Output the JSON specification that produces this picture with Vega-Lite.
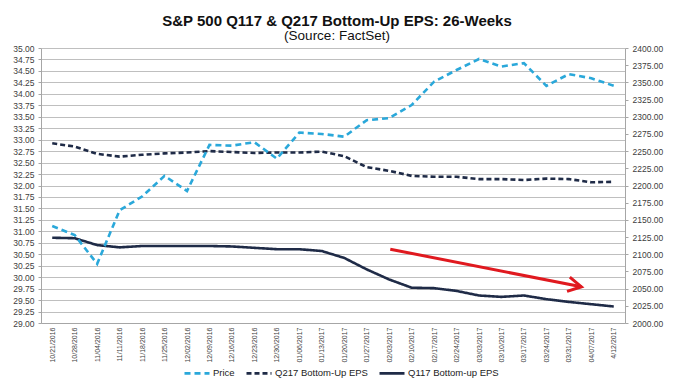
{
  "$schema": "https://vega.github.io/schema/vega-lite/v6.json",
  "autosize": {"type": "none"},
  "width": 584,
  "height": 275,
  "padding": {"left": 41, "top": 48, "right": 50, "bottom": 64},
  "background": "white",
  "config": {
    "view": {"stroke": null},
    "font": "Liberation Sans",
    "axis": {"labelFont": "Liberation Sans", "labelColor": "#404040", "domainColor": "#a6a6a6", "tickColor": "#a6a6a6"}
  },
  "title": {
    "text": "S&P 500 Q117 & Q217 Bottom-Up EPS: 26-Weeks",
    "subtitle": "(Source: FactSet)",
    "anchor": "middle",
    "font": "Liberation Sans",
    "fontSize": 15,
    "fontWeight": "bold",
    "color": "#111",
    "subtitleFont": "Liberation Sans",
    "subtitleFontSize": 13.5,
    "subtitleColor": "#111",
    "subtitlePadding": 0,
    "offset": 2,
    "dx": 4
  },
  "datasets": {
    "eps": [
      {"date": "10/21/2016", "series": "Price", "value": 2141},
      {"date": "10/28/2016", "series": "Price", "value": 2128},
      {"date": "11/04/2016", "series": "Price", "value": 2086},
      {"date": "11/11/2016", "series": "Price", "value": 2164},
      {"date": "11/18/2016", "series": "Price", "value": 2184},
      {"date": "11/25/2016", "series": "Price", "value": 2214},
      {"date": "12/02/2016", "series": "Price", "value": 2192},
      {"date": "12/09/2016", "series": "Price", "value": 2259},
      {"date": "12/16/2016", "series": "Price", "value": 2258},
      {"date": "12/23/2016", "series": "Price", "value": 2263},
      {"date": "12/30/2016", "series": "Price", "value": 2239},
      {"date": "01/06/2017", "series": "Price", "value": 2277},
      {"date": "01/13/2017", "series": "Price", "value": 2275},
      {"date": "01/20/2017", "series": "Price", "value": 2271},
      {"date": "01/27/2017", "series": "Price", "value": 2295},
      {"date": "02/03/2017", "series": "Price", "value": 2298},
      {"date": "02/10/2017", "series": "Price", "value": 2317},
      {"date": "02/17/2017", "series": "Price", "value": 2351},
      {"date": "02/24/2017", "series": "Price", "value": 2368},
      {"date": "03/03/2017", "series": "Price", "value": 2384},
      {"date": "03/10/2017", "series": "Price", "value": 2373},
      {"date": "03/17/2017", "series": "Price", "value": 2378},
      {"date": "03/24/2017", "series": "Price", "value": 2345},
      {"date": "03/31/2017", "series": "Price", "value": 2362},
      {"date": "04/07/2017", "series": "Price", "value": 2356},
      {"date": "4/12/2017", "series": "Price", "value": 2345},
      {"date": "10/21/2016", "series": "Q217 Bottom-Up EPS", "value": 32.92},
      {"date": "10/28/2016", "series": "Q217 Bottom-Up EPS", "value": 32.85},
      {"date": "11/04/2016", "series": "Q217 Bottom-Up EPS", "value": 32.69},
      {"date": "11/11/2016", "series": "Q217 Bottom-Up EPS", "value": 32.63},
      {"date": "11/18/2016", "series": "Q217 Bottom-Up EPS", "value": 32.67},
      {"date": "11/25/2016", "series": "Q217 Bottom-Up EPS", "value": 32.70},
      {"date": "12/02/2016", "series": "Q217 Bottom-Up EPS", "value": 32.72},
      {"date": "12/09/2016", "series": "Q217 Bottom-Up EPS", "value": 32.75},
      {"date": "12/16/2016", "series": "Q217 Bottom-Up EPS", "value": 32.73},
      {"date": "12/23/2016", "series": "Q217 Bottom-Up EPS", "value": 32.71},
      {"date": "12/30/2016", "series": "Q217 Bottom-Up EPS", "value": 32.72},
      {"date": "01/06/2017", "series": "Q217 Bottom-Up EPS", "value": 32.72},
      {"date": "01/13/2017", "series": "Q217 Bottom-Up EPS", "value": 32.74},
      {"date": "01/20/2017", "series": "Q217 Bottom-Up EPS", "value": 32.64},
      {"date": "01/27/2017", "series": "Q217 Bottom-Up EPS", "value": 32.40},
      {"date": "02/03/2017", "series": "Q217 Bottom-Up EPS", "value": 32.32},
      {"date": "02/10/2017", "series": "Q217 Bottom-Up EPS", "value": 32.21},
      {"date": "02/17/2017", "series": "Q217 Bottom-Up EPS", "value": 32.19},
      {"date": "02/24/2017", "series": "Q217 Bottom-Up EPS", "value": 32.19},
      {"date": "03/03/2017", "series": "Q217 Bottom-Up EPS", "value": 32.14},
      {"date": "03/10/2017", "series": "Q217 Bottom-Up EPS", "value": 32.14},
      {"date": "03/17/2017", "series": "Q217 Bottom-Up EPS", "value": 32.12},
      {"date": "03/24/2017", "series": "Q217 Bottom-Up EPS", "value": 32.15},
      {"date": "03/31/2017", "series": "Q217 Bottom-Up EPS", "value": 32.14},
      {"date": "04/07/2017", "series": "Q217 Bottom-Up EPS", "value": 32.07},
      {"date": "4/12/2017", "series": "Q217 Bottom-Up EPS", "value": 32.08},
      {"date": "10/21/2016", "series": "Q117 Bottom-up EPS", "value": 30.86},
      {"date": "10/28/2016", "series": "Q117 Bottom-up EPS", "value": 30.85},
      {"date": "11/04/2016", "series": "Q117 Bottom-up EPS", "value": 30.70},
      {"date": "11/11/2016", "series": "Q117 Bottom-up EPS", "value": 30.65},
      {"date": "11/18/2016", "series": "Q117 Bottom-up EPS", "value": 30.68},
      {"date": "11/25/2016", "series": "Q117 Bottom-up EPS", "value": 30.68},
      {"date": "12/02/2016", "series": "Q117 Bottom-up EPS", "value": 30.68},
      {"date": "12/09/2016", "series": "Q117 Bottom-up EPS", "value": 30.68},
      {"date": "12/16/2016", "series": "Q117 Bottom-up EPS", "value": 30.67},
      {"date": "12/23/2016", "series": "Q117 Bottom-up EPS", "value": 30.64},
      {"date": "12/30/2016", "series": "Q117 Bottom-up EPS", "value": 30.61},
      {"date": "01/06/2017", "series": "Q117 Bottom-up EPS", "value": 30.61},
      {"date": "01/13/2017", "series": "Q117 Bottom-up EPS", "value": 30.57},
      {"date": "01/20/2017", "series": "Q117 Bottom-up EPS", "value": 30.42},
      {"date": "01/27/2017", "series": "Q117 Bottom-up EPS", "value": 30.17},
      {"date": "02/03/2017", "series": "Q117 Bottom-up EPS", "value": 29.95},
      {"date": "02/10/2017", "series": "Q117 Bottom-up EPS", "value": 29.77},
      {"date": "02/17/2017", "series": "Q117 Bottom-up EPS", "value": 29.76},
      {"date": "02/24/2017", "series": "Q117 Bottom-up EPS", "value": 29.70},
      {"date": "03/03/2017", "series": "Q117 Bottom-up EPS", "value": 29.60},
      {"date": "03/10/2017", "series": "Q117 Bottom-up EPS", "value": 29.57},
      {"date": "03/17/2017", "series": "Q117 Bottom-up EPS", "value": 29.60},
      {"date": "03/24/2017", "series": "Q117 Bottom-up EPS", "value": 29.52},
      {"date": "03/31/2017", "series": "Q117 Bottom-up EPS", "value": 29.46},
      {"date": "04/07/2017", "series": "Q117 Bottom-up EPS", "value": 29.41},
      {"date": "4/12/2017", "series": "Q117 Bottom-up EPS", "value": 29.36}
    ],
    "arrow": [
      {"pos": 15.05, "eps": 30.61, "pos2": 23.56, "eps2": 29.79}
    ]
  },
  "layer": [
    {
      "data": {"name": "eps"},
      "transform": [{"filter": "datum.series !== 'Price'"}],
      "mark": {"type": "line", "strokeCap": "butt"},
      "encoding": {
        "x": {
          "field": "date", "type": "ordinal", "sort": null,
          "scale": {"type": "point", "padding": 0.5},
          "axis": {"title": null, "labelAngle": 270, "labelFontSize": 7, "labelPadding": 4, "ticks": false, "domainColor": "#a6a6a6", "grid": false}
        },
        "y": {
          "field": "value", "type": "quantitative",
          "scale": {"domain": [29, 35], "nice": false, "zero": false},
          "axis": {
            "title": null, "orient": "left", "format": ".2f",
            "values": [29, 29.25, 29.5, 29.75, 30, 30.25, 30.5, 30.75, 31, 31.25, 31.5, 31.75, 32, 32.25, 32.5, 32.75, 33, 33.25, 33.5, 33.75, 34, 34.25, 34.5, 34.75, 35],
            "labelFontSize": 8.5, "tickSize": 3, "labelPadding": 4,
            "grid": true, "gridColor": "#bfbfbf", "gridWidth": 1
          }
        },
        "color": {
          "field": "series", "type": "nominal", "title": null,
          "scale": {"domain": ["Price", "Q217 Bottom-Up EPS", "Q117 Bottom-up EPS"], "range": ["#2aa8da", "#1f2b47", "#1f2b47"]}
        },
        "strokeDash": {
          "field": "series", "type": "nominal", "title": null,
          "scale": {"domain": ["Price", "Q217 Bottom-Up EPS", "Q117 Bottom-up EPS"], "range": [[6, 4], [5, 3], [1, 0]]}
        },
        "strokeWidth": {
          "field": "series", "type": "nominal", "title": null,
          "scale": {"domain": ["Price", "Q217 Bottom-Up EPS", "Q117 Bottom-up EPS"], "range": [2.6, 2.6, 1.6]}
        }
      }
    },
    {
      "data": {"name": "eps"},
      "transform": [{"filter": "datum.series === 'Price'"}],
      "mark": {"type": "line", "strokeCap": "butt"},
      "encoding": {
        "x": {
          "field": "date", "type": "ordinal", "sort": null,
          "scale": {"type": "point", "padding": 0.5},
          "axis": null
        },
        "y": {
          "field": "value", "type": "quantitative",
          "scale": {"domain": [2000, 2400], "nice": false, "zero": false},
          "axis": {
            "title": null, "orient": "right", "format": ".2f",
            "values": [2000, 2025, 2050, 2075, 2100, 2125, 2150, 2175, 2200, 2225, 2250, 2275, 2300, 2325, 2350, 2375, 2400],
            "labelFontSize": 8.5, "tickSize": 3, "labelPadding": 4, "grid": false
          }
        },
        "color": {
          "field": "series", "type": "nominal", "title": null,
          "scale": {"domain": ["Price", "Q217 Bottom-Up EPS", "Q117 Bottom-up EPS"], "range": ["#2aa8da", "#1f2b47", "#1f2b47"]},
          "legend": {
            "orient": "none", "legendX": 142, "legendY": 311, "direction": "horizontal",
            "symbolType": "stroke", "symbolSize": 625,
            "labelFontSize": 9.5, "labelFont": "Liberation Sans", "labelColor": "#222",
            "labelOffset": 2, "columnPadding": 6, "padding": 0
          }
        },
        "strokeDash": {
          "field": "series", "type": "nominal", "title": null,
          "scale": {"domain": ["Price", "Q217 Bottom-Up EPS", "Q117 Bottom-up EPS"], "range": [[6, 4], [5, 3], [1, 0]]}
        },
        "strokeWidth": {
          "field": "series", "type": "nominal", "title": null,
          "scale": {"domain": ["Price", "Q217 Bottom-Up EPS", "Q117 Bottom-up EPS"], "range": [2.6, 2.6, 1.6]}
        }
      }
    },
    {
      "data": {"name": "arrow"},
      "mark": {"type": "rule", "color": "#e0191f", "strokeWidth": 3},
      "encoding": {
        "x": {"field": "pos", "type": "quantitative", "scale": {"domain": [-0.5, 25.5], "nice": false, "zero": false}, "axis": null},
        "x2": {"field": "pos2"},
        "y": {"field": "eps", "type": "quantitative", "scale": {"domain": [29, 35], "nice": false, "zero": false}, "axis": null},
        "y2": {"field": "eps2"}
      }
    },
    {
      "data": {"name": "arrow"},
      "mark": {"type": "point", "shape": "M -1 -0.55 L 0 0 L -1 0.55", "filled": false, "color": "#e0191f", "strokeWidth": 3, "size": 700, "angle": 11, "opacity": 1, "strokeJoin": "miter"},
      "encoding": {
        "x": {"field": "pos2", "type": "quantitative", "scale": {"domain": [-0.5, 25.5], "nice": false, "zero": false}, "axis": null},
        "y": {"field": "eps2", "type": "quantitative", "scale": {"domain": [29, 35], "nice": false, "zero": false}, "axis": null}
      }
    }
  ],
  "resolve": {"scale": {"x": "independent", "y": "independent", "color": "shared", "strokeDash": "shared", "strokeWidth": "shared"}}
}
